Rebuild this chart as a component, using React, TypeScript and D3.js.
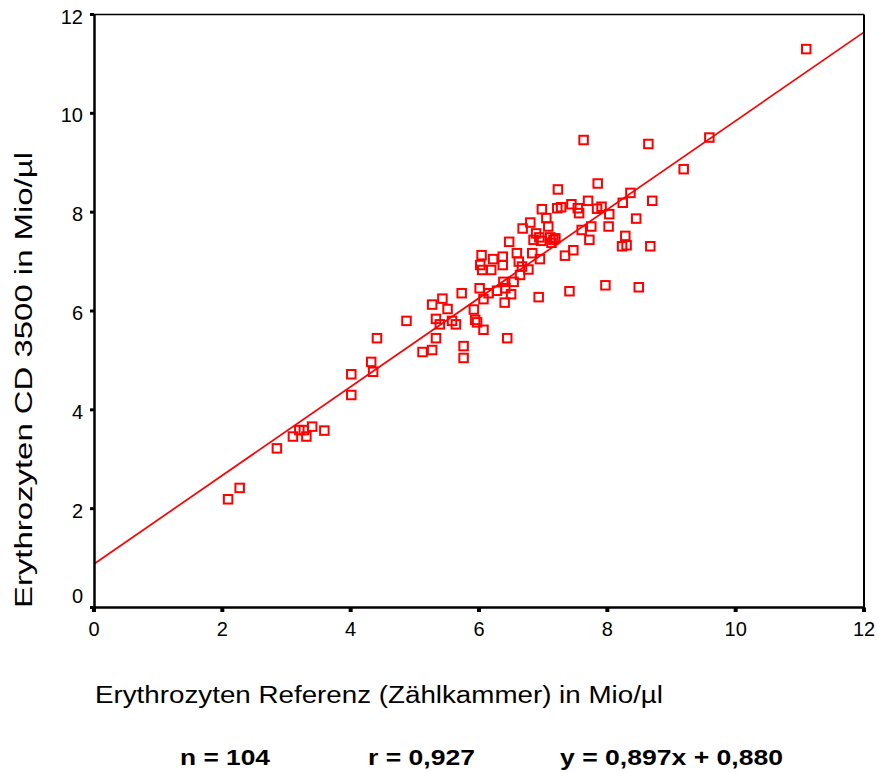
import React from "react";
import * as d3 from "d3";

const W = 879;
const H = 773;

// Reference (counting chamber) values, Mio/µl
const refValues: number[] = [
  2.09, 2.27, 2.85, 3.10, 3.20, 3.27, 3.31, 3.40, 3.59, 4.01,
  4.01, 4.35, 4.32, 4.41, 4.87, 5.12, 5.27, 5.33, 5.27, 5.43,
  5.51, 5.33, 5.39, 5.58, 5.64, 5.73, 5.76, 5.76, 5.92, 5.94,
  5.97, 6.07, 6.44, 6.07, 6.01, 6.15, 6.28, 6.40, 6.50, 6.41,
  6.38, 6.54, 6.64, 6.02, 6.05, 6.19, 6.37, 6.62, 6.67, 6.77,
  6.95, 6.04, 6.22, 6.37, 6.59, 6.83, 7.34, 7.47, 6.93, 7.41,
  7.97, 8.49, 6.47, 6.68, 6.80, 6.89, 6.85, 6.94, 6.97, 7.11,
  7.16, 7.19, 7.13, 7.05, 7.08, 6.98, 7.22, 7.28, 7.23, 7.44,
  7.54, 7.56, 7.70, 7.84, 7.91, 8.03, 7.75, 8.02, 7.72, 7.85,
  8.24, 8.36, 8.45, 8.70, 8.28, 8.23, 8.30, 8.67, 7.63, 8.64,
  9.19, 9.59, 11.10, 7.60,
];

// CD 3500 values, Mio/µl
const cdValues: number[] = [
  2.19, 2.42, 3.22, 3.46, 3.59, 3.59, 3.46, 3.66, 3.58, 4.30,
  4.72, 4.77, 4.97, 5.45, 5.80, 5.17, 5.21, 5.45, 6.13, 6.25,
  6.04, 5.84, 5.73, 5.80, 5.73, 6.36, 5.29, 5.05, 6.03, 5.82,
  5.77, 5.62, 5.45, 6.24, 6.46, 6.36, 6.41, 6.17, 6.34, 6.46,
  6.59, 6.59, 6.73, 6.93, 6.83, 6.83, 6.93, 7.00, 6.90, 6.84,
  7.05, 7.13, 7.05, 7.10, 7.17, 7.17, 7.12, 7.23, 6.28, 6.40,
  6.52, 6.48, 7.40, 7.67, 7.79, 7.57, 7.44, 7.49, 7.42, 7.49,
  7.44, 7.47, 7.38, 7.88, 7.71, 8.06, 8.08, 8.10, 8.46, 8.16,
  8.08, 7.98, 8.23, 8.07, 8.11, 7.96, 7.71, 7.71, 7.44, 8.58,
  8.19, 8.39, 7.87, 8.23, 7.52, 7.31, 7.33, 7.31, 9.46, 9.38,
  8.87, 9.51, 11.30, 7.64,
];

const xTicks: number[] = [0, 2, 4, 6, 8, 10, 12];
const yTicks: number[] = [0, 2, 4, 6, 8, 10, 12];

const slope = 0.897;
const intercept = 0.88;

const xTitle = "Erythrozyten Referenz (Zählkammer) in Mio/µl";
const yTitle = "Erythrozyten CD 3500 in Mio/µl";
const statLabels: string[] = ["n = 104", "r = 0,927", "y = 0,897x + 0,880"];

const FONT = "'Liberation Sans', Arial, Helvetica, sans-serif";

export default function App() {
  const x = d3.scaleLinear().domain([0, 12]).range([94, 864]);
  const y = d3.scaleLinear().domain([0, 12]).range([607.5, 14.5]);

  const pts = refValues.map((v, i) => ({ x: v, y: cdValues[i] }));

  const lineGen = d3
    .line<number>()
    .x((d) => x(d))
    .y((d) => y(slope * d + intercept));

  const sq = 8.5;

  const statPos = [
    { x: 180, len: 90 },
    { x: 368, len: 107 },
    { x: 560, len: 223 },
  ];

  return (
    <svg
      width={W}
      height={H}
      style={{ position: "absolute", left: 0, top: 0, background: "#fff" }}
      fontFamily={FONT}
    >
      <rect x={0} y={0} width={W} height={H} fill="#fff" />
      {/* regression line */}
      <path d={lineGen([0, 12]) || ""} stroke="#ff0000" strokeWidth={1.7} fill="none" />
      {/* points */}
      {pts.map((p, i) => (
        <rect
          key={i}
          x={x(p.x) - sq / 2}
          y={y(p.y) - sq / 2}
          width={sq}
          height={sq}
          fill="none"
          stroke="#ff0000"
          strokeWidth={2}
        />
      ))}
      {/* frame */}
      <line x1={x(0)} x2={x(12)} y1={y(12)} y2={y(12)} stroke="#000" strokeWidth={1.6} />
      <line x1={x(12)} x2={x(12)} y1={y(12)} y2={y(0)} stroke="#000" strokeWidth={2} />
      <line x1={x(0) + 0.5} x2={x(0) + 0.5} y1={y(12)} y2={y(0) + 1} stroke="#000" strokeWidth={2.5} />
      <line x1={x(0)} x2={x(12) + 1} y1={y(0)} y2={y(0)} stroke="#000" strokeWidth={2.5} />
      {/* y ticks */}
      {yTicks.map((t) => (
        <g key={"y" + t}>
          <line x1={x(0) - 4} x2={x(0)} y1={y(t)} y2={y(t)} stroke="#000" strokeWidth={3} />
          <text
            x={83}
            y={t === 0 ? 596 : y(t) + 2}
            textAnchor="end"
            dominantBaseline="central"
            fontSize={20}
            fill="#000"
          >
            {t}
          </text>
        </g>
      ))}
      {/* x ticks */}
      {xTicks.map((t) => (
        <g key={"x" + t}>
          <line x1={x(t)} x2={x(t)} y1={y(0)} y2={y(0) + 4.5} stroke="#000" strokeWidth={4} />
          <text
            x={x(t)}
            y={629}
            textAnchor="middle"
            dominantBaseline="central"
            fontSize={20}
            fill="#000"
          >
            {t}
          </text>
        </g>
      ))}
      {/* axis titles */}
      <text
        x={95}
        y={703}
        fontSize={23}
        fill="#000"
        textLength={568}
        lengthAdjust="spacingAndGlyphs"
      >
        {xTitle}
      </text>
      <text
        transform="translate(32,608) rotate(-90)"
        x={0}
        y={0}
        fontSize={23}
        fill="#000"
        textLength={456}
        lengthAdjust="spacingAndGlyphs"
      >
        {yTitle}
      </text>
      {/* statistics */}
      {statLabels.map((s, i) => (
        <text
          key={s}
          x={statPos[i].x}
          y={765}
          fontSize={22}
          fontWeight="bold"
          fill="#000"
          textLength={statPos[i].len}
          lengthAdjust="spacingAndGlyphs"
        >
          {s}
        </text>
      ))}
    </svg>
  );
}
